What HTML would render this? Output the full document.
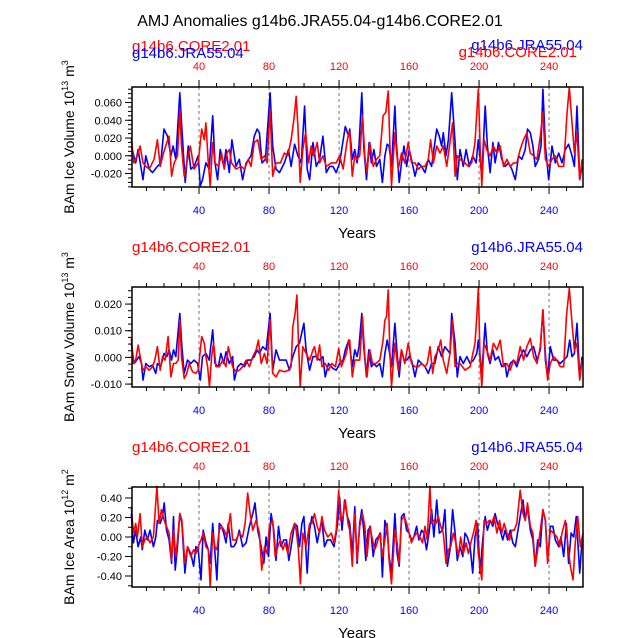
<!DOCTYPE html>
<html><head><meta charset="utf-8"><style>
html,body{margin:0;padding:0;background:#fff;}
svg{display:block;font-family:"Liberation Sans",Arial,sans-serif;}
</style></head><body>
<svg id="chart" width="638" height="638" viewBox="0 0 638 638" xmlns="http://www.w3.org/2000/svg">
<text x="320" y="26" font-size="16" text-anchor="middle" fill="#000">AMJ Anomalies g14b6.JRA55.04-g14b6.CORE2.01</text>
</svg>
<script>
const xTicksMajor = [40,80,120,160,200,240];
const p1Ticks = [-0.020,0.000,0.020,0.040,0.060];
const p1TickLabels = ["-0.020","0.000","0.020","0.040","0.060"];
const p2Ticks = [-0.010,0.000,0.010,0.020];
const p2TickLabels = ["-0.010","0.000","0.010","0.020"];
const p3Ticks = [-0.4,-0.2,0,0.2,0.4];
const p3TickLabels = ["-0.40","-0.20","0.00","0.20","0.40"];

const p1JraYears=[1.3,3.8,5.2,6.7,8,9.6,11.5,13.4,16.2,18.1,20,22,23.9,25.2,26.7,29,30.2,32.1,33.8,35.3,37.2,39.5,40.7,42,43.9,45.8,47.8,49.1,50.6,52.1,54.1,55.4,57.3,58.8,61.1,63,64.9,66.9,69.7,71.6,73.2,74.5,76,77.9,80.6,82.1,84,86,88.8,91.1,92.6,94.6,96.5,98.4,100.3,101.8,103.2,105.1,107,108.9,110.8,112.7,114.6,116.5,118.4,120.3,123.6,125.5,126.1,127.6,129,130.3,131.4,133,134.1,135.7,137.2,138.5,139.9,141.4,143.3,144.8,146.2,147.5,148.6,150,151.9,152.8,154.4,155.7,157.1,158.6,160.1,161.4,163.4,165.3,167.2,169.1,171,172.9,175.8,177.3,178.6,179.6,181.1,182.5,184.4,186.3,187.6,189.1,191,192.6,194.5,196.4,198.3,199.6,201.6,203.5,204.8,206.3,207.9,209.2,211.1,213,214.9,216.8,218.7,220.7,222.6,224.5,226.4,227.7,229.3,230.8,232.1,234,235.4,236.5,237.9,239.8,241.7,243.6,245.5,247.4,249.3,251.2,253.1,254.5,256,257.5,258.9];
const p1JraVals=[.011,-.008,.007,-.012,-.027,0,-.015,-.019,-.012,-.008,.030,.022,0,.011,-.004,.071,.030,-.030,.011,-.015,-.012,0,-.034,-.027,-.008,-.015,.045,-.008,-.027,.007,-.012,.007,-.019,.018,-.012,-.004,-.027,-.008,0,.022,.030,.026,-.008,-.004,.071,.011,-.015,-.019,-.008,.007,-.012,.013,0,-.008,.056,-.015,-.027,.015,-.012,-.004,.022,-.019,-.012,-.012,-.019,-.008,.033,.022,.030,-.004,.007,-.008,.011,.071,.011,-.027,.015,-.008,.007,-.012,-.004,-.030,0,.013,.011,-.012,.056,.015,-.030,-.008,.011,-.012,.007,-.004,-.023,-.008,-.012,-.019,-.004,-.012,.030,.022,.011,.026,0,.018,.071,.015,-.027,.007,-.012,.007,-.012,0,-.008,.018,-.023,.056,.011,-.019,.015,-.008,.015,-.004,-.012,-.008,-.015,-.027,0,-.004,.007,.030,.026,.011,-.012,-.004,.011,.075,.011,-.027,.011,-.008,.003,-.008,.007,.013,0,-.012,.056,-.027,-.012];
const p1CoreYears=[1.3,2.8,4.8,6.3,8,9.6,11.5,14.3,16.2,17.8,19.7,21.6,22.9,24.3,25.8,27.7,29,30,31.5,33.4,35,37.2,39.5,41.5,43,43.9,45.3,46.4,47.8,49.1,51.2,52.9,54.4,56,57.3,58.6,61.1,64,65.9,68.2,69.7,71.6,73.5,75.5,77.4,78.9,80.6,82.1,84,86.5,88.8,90.7,92.6,94.2,95.5,96.5,97.8,99.3,100.9,102.6,104.1,105.6,107.5,108.9,110.8,112.7,115.6,118.4,120.3,122.3,124.2,125.5,126.1,127.6,129,130.3,131.8,133.4,134.7,136,137.6,139.5,141.4,143.3,145.2,146.7,148.1,149,150,151.9,153.8,155.7,157.6,159.5,161.4,163.4,165.3,167.2,169.1,171,172.3,173.9,175.8,177.7,179.6,181.5,183.4,184.9,186.3,187.6,189.1,192,193.9,195.8,197.7,198.7,199.6,200.6,201.6,202.9,204.4,206.3,208.2,210.2,212.1,214,215.9,217.8,219.7,221.6,223.5,225.4,227.3,229.3,231.2,233.1,235,236.5,237.9,239.8,241.7,243.6,245.5,248.4,250.3,251.6,253.1,254.5,256,257.5,258.9];
const p1CoreVals=[.020,-.008,0,.011,-.008,-.012,-.015,-.004,.018,-.012,.003,.015,.022,-.023,-.008,0,.052,.011,-.023,-.004,.011,-.015,-.008,.030,.018,.037,-.008,-.034,.015,-.008,-.012,.003,-.015,.003,.007,-.008,-.015,-.012,-.015,-.004,-.012,.015,.018,-.004,0,-.008,.052,-.023,-.008,-.008,.003,0,.018,.041,.067,.033,-.030,.007,.026,-.008,.011,0,.015,-.008,0,-.012,-.008,-.008,0,-.015,.011,.026,.026,-.023,0,-.004,0,.045,0,-.019,.015,-.012,-.004,0,.045,.049,.073,.015,-.034,.026,-.015,.003,-.008,.015,-.008,-.008,-.015,-.012,-.012,-.004,.018,-.008,.011,.003,.011,-.012,.015,.037,-.023,0,-.004,-.008,-.012,-.008,.015,.049,.075,.011,-.034,.018,.007,0,.011,.003,.011,-.012,-.004,-.012,-.008,-.008,.007,.018,.026,.003,0,-.004,.022,.049,-.004,-.012,-.004,0,-.012,-.012,.049,.077,.037,.003,.026,-.027,-.004];

const p2JraYears=[1.3,2.9,4.4,5.7,7.1,8,9.6,11.5,13.4,15.3,16.2,18.1,20,21.6,22.9,24.3,25.4,26.7,29,30.2,31.5,33.4,35.3,37.2,39.2,40.7,42,43.9,45.8,47.8,49.1,51,52.5,54.1,55.4,57.3,59.2,60.2,62.1,64,65.9,67.8,69.7,71.6,73.2,74.5,76.4,78.3,80.6,82.1,84,86,87.9,89.8,91.7,93.6,95.5,97.4,99.9,101.2,103.2,105.1,107,108.9,110.8,112.1,114,116.5,118.4,120.3,122.3,123.6,125.5,126.1,127.6,129,130.3,131.4,133,134.1,135.7,137,138.5,139.9,141.4,143.3,144.8,146.2,147.5,148.6,150,151.9,153.2,154.4,155.7,157.1,158.6,160.1,161.4,163.4,165.3,167.2,169.1,171,172.9,174.8,176.7,178.6,180.5,181.9,183.4,184.4,186.3,187.6,189.1,191,193,194.9,196.8,198.7,199.6,201.6,203.5,204.8,206.3,207.9,209.2,211.1,213,214.9,215.9,217.8,219.7,221.6,223.5,225.4,227.3,229.3,231.2,233.1,235,236.5,237.9,239.2,240.7,242.6,244.5,246.4,248.4,250.3,251.8,253.1,254.5,256,257.5,258.9];
const p2JraVals=[.0053,-.0023,-.001,.0003,-.0023,-.0085,-.0023,-.0035,-.0029,-.006,-.0023,-.0035,.0015,.0003,.0028,-.001,.0028,.0003,.0165,.004,-.006,-.001,-.0023,-.001,-.0023,-.0085,.0003,.0015,-.001,.0103,-.0023,-.0035,.0015,-.0023,.0021,-.0023,.0003,-.0085,-.0035,-.0023,-.0035,-.001,-.001,.0003,.0028,.0015,.004,.0028,.0165,-.0048,.0028,-.001,-.001,-.001,-.0048,.0003,.004,.0053,.0128,.0028,-.0048,.0003,.0003,-.001,.0003,-.0073,-.0023,-.0041,-.0048,-.0023,-.001,.0028,.0065,.004,-.0035,.0028,.0003,.004,.0165,.004,-.0073,.0028,-.0035,-.0023,-.0035,-.0023,-.0073,.0015,.0065,.0028,-.0035,.0128,.0015,-.0073,.0028,-.001,-.001,.0003,-.001,-.0073,-.001,-.0023,-.0035,-.006,-.0023,-.0023,.004,.0003,.004,.0028,.0015,.0165,.0053,-.0073,.0003,-.0023,.0003,-.0023,-.001,.0015,.0065,-.006,.0128,.0015,-.0023,.0028,-.001,.0003,-.0035,-.0023,-.0073,-.0023,-.001,-.0035,.0003,.0028,.0003,.0028,.004,-.001,.0028,.0178,-.001,-.0073,.004,-.001,-.001,-.0023,-.001,.0003,.0065,.0003,.0015,.0128,-.0073,.0003];
const p2CoreYears=[1.3,2.5,3.8,5.2,6.7,8,9.6,11.5,13.4,14.7,16.2,17.8,19.1,20.6,22.3,23.9,25.4,26.7,28.1,29,30,31.5,33,34.4,36.3,38.2,39.5,41.5,43,43.9,44.9,46,47.2,48.3,49.7,51.6,53.5,55.4,56.7,57.9,59.2,61.1,63,64.9,66.9,68.8,70.7,72.6,73.9,75.5,77.4,78.9,80.6,82.1,84,86,88.8,91.1,92.6,93.6,94.9,95.9,96.8,97.8,99.3,101.2,103.2,105.1,106,107.5,108.9,110.2,112.1,114,115.9,117.9,119.8,121.3,122.8,124.2,125.5,126.1,127.6,129,130.3,131.8,133.4,134.7,136,137.6,139.1,141,143.3,145.2,146.2,147.1,148.1,149,150,151.9,153.8,155.7,157.6,159.5,161.4,163.4,165.3,167.2,169.1,170.4,172,173.5,174.8,176.7,178.1,179.6,181.5,183.4,184.9,186.3,187.6,189.1,192,194.9,197.7,198.7,199.6,200.6,201.6,202.9,204.4,206.3,208.2,210.2,212.1,214,215.9,217.8,219.7,221.6,223.5,225.4,227.3,229.3,231.2,233.1,235,236.5,237.9,239.2,240.7,242.6,244.5,246.4,248.4,249.9,251.6,253.1,254.5,256,257.5,258.9];
const p2CoreVals=[.0071,-.0023,-.001,.0046,-.001,-.0048,-.0035,-.0048,-.0035,-.001,.004,-.0048,.0003,-.001,.0078,-.0073,-.0023,-.0023,-.001,.014,.0003,-.0079,-.006,-.0023,-.0054,-.006,-.0048,.0078,.0053,.0003,-.0035,-.011,.0003,.0053,-.0035,-.0035,-.001,-.0035,.004,.0003,-.0035,-.0054,-.0048,-.0035,-.001,-.0035,.0003,.0028,.0065,-.0023,.0015,-.0023,.014,-.006,-.0073,-.0048,-.0054,-.0048,-.0035,.0115,.0165,.0234,.0065,-.011,.004,.0015,-.001,.0028,.004,-.001,.0046,-.0035,-.0023,-.0048,-.0023,-.0035,.0034,-.0035,-.001,.0015,.0065,.0065,-.0073,-.001,-.001,-.001,.0153,.0003,-.0073,.0028,-.0023,-.0023,-.001,.0065,.014,.0153,.0253,.0028,-.011,.0053,-.0048,.0028,-.0023,.0053,-.0023,-.0035,-.0035,-.0023,-.0035,-.0023,.004,-.006,.0003,.0028,.0065,-.001,-.006,.0015,.014,-.0035,-.0023,-.0023,-.0048,-.0035,.0053,.0153,.0259,-.001,-.011,.0053,.0028,-.001,.0053,.0028,.0065,-.0035,-.0023,-.0048,-.001,-.0023,.004,-.001,.004,.0071,.0003,-.0023,.004,.0178,.0015,-.0085,-.0023,.0003,-.001,-.0035,-.0035,.0153,.0259,.0128,.0028,.0053,-.0085,-.001];

const p3JraYears=[1.3,2.5,3.8,5.2,6.7,7.6,9,10.5,12,13.9,15.3,16.2,17.8,19.1,20.1,21.4,22.9,24.3,25.4,26.4,27.7,29,30.2,31.9,33.4,35.3,36.9,38.2,39.5,41.1,42.4,43.9,45.3,46.4,47.8,49.1,50.2,51.6,52.9,54.1,55.4,56.7,58.3,59.8,61.1,63,64.9,66.9,68.8,70.7,72,73.5,75.5,77,78.3,79.7,81.2,82.7,84,85.4,86.9,88.4,90,91.3,92.6,94.6,96.1,97.4,98.8,99.9,101.8,103.2,104.5,106,107.5,108.9,110.2,111.7,113.3,115.2,117.1,119,120.3,121.7,123.2,124.7,126.1,127.6,129,130.3,131.8,133,134.1,135.3,136.6,137.9,139.5,141,142.3,143.7,144.8,146.2,147.5,148.6,150,151.9,153.2,154.4,155.7,157.1,158.6,160.1,161.4,162.8,164.3,165.6,167.2,168.5,170,171.4,172.9,174.2,175.8,177.3,179.2,180.5,181.9,183.4,184.9,186.3,187.6,189.1,190.7,192,193.3,194.9,196.4,197.7,199.1,200.6,202.1,203.5,204.8,206.3,207.9,209.2,210.5,212.1,213.6,214.9,216.3,217.8,219.3,220.7,222,223.5,225.1,226.4,227.7,229.3,230.8,232.1,233.5,235,236.5,237.9,239.2,240.7,242.2,243.6,245.5,246.8,248.4,249.9,251.2,252.6,254.1,255.6,257.5,258.9];
const p3JraVals=[.24,-.06,.07,-.10,0,-.13,.07,-.03,.07,-.10,0,.17,.14,.21,.35,.07,-.03,-.27,.21,-.34,-.10,.24,.14,-.37,-.10,-.17,-.30,-.10,-.13,-.44,.07,-.06,-.13,-.27,.14,-.17,-.44,.14,.11,.04,-.06,.14,-.10,-.10,-.06,.07,-.10,-.06,.11,.24,.35,.07,-.10,-.27,0,-.20,.24,.07,-.24,.11,-.10,-.03,-.03,-.24,-.10,.14,.11,-.10,.14,.21,-.37,.07,.21,.11,-.06,.07,.17,-.10,-.03,-.03,-.10,.11,.41,.07,.38,.21,.14,-.17,.31,-.27,.14,.28,.07,-.24,.07,.11,-.20,-.03,0,.04,-.41,.17,.07,-.20,-.37,.24,-.17,-.30,.21,.24,.07,.04,-.03,0,.11,-.03,.07,.04,-.13,.04,.28,0,.38,.04,.07,.28,-.30,-.13,.28,.04,-.24,-.10,-.20,.04,0,-.10,-.37,0,.14,-.37,-.03,.21,.07,.17,.11,.24,.14,.07,-.03,.07,-.03,.07,-.06,-.10,.04,.21,.38,.17,.31,.07,-.03,-.30,-.03,-.10,.28,.17,-.24,.11,.11,-.03,-.10,0,-.20,.14,-.27,.04,0,.21,-.37,-.03];
const p3CoreYears=[1.3,2.5,3.8,4.8,6.3,7.6,9,10.5,12,13.9,15.9,17.2,18.5,20.1,21.4,22.9,24.3,25.4,26.7,27.7,29,30.2,31.9,33.4,35.3,36.9,38.2,39.5,41.1,42.4,43.9,45.3,46.4,47.8,49.1,50.2,51.6,52.9,54.4,56,57.9,59.2,61.1,63,64.9,66.3,67.8,69.2,70.7,72.6,74.5,75.8,77.4,78.9,80.2,82.1,83.5,85,86.5,87.9,89.2,90.7,92.6,94.6,95.5,96.8,97.9,99.3,101.2,103.2,104.5,106,107.5,108.9,110.2,111.7,113.6,115.6,117.1,118.4,119.8,120.9,122.3,123.6,125.1,126.1,127.6,129,130.3,131.8,133.4,134.7,136,137.6,139.1,140.4,141.8,143.3,144.8,146.2,147.5,148.6,150,151.9,153.2,154.4,155.7,157.1,158.6,160.1,161.4,162.8,164.3,166.2,167.7,169.1,170.4,171.9,172.9,174.2,175.4,176.7,178.1,179.6,181.1,182.5,183.8,185.3,186.8,188.2,189.5,191,192.6,193.9,195.3,196.8,198.3,199.6,201.6,202.9,204.4,205.9,207.3,208.6,210.2,211.7,213,214.4,215.9,217.4,218.7,220.1,221.6,223.5,225.1,226.4,227.7,229.3,230.8,232.1,233.5,235,236.5,237.9,239.2,240.7,242.6,244.5,246.1,247.4,249.3,250.6,252.2,253.7,255,256.4,257.9,259.4];
const p3CoreVals=[.31,.04,.14,0,.24,-.10,-.03,0,-.06,0,.52,.14,.28,.17,.11,.04,-.24,.07,-.20,-.03,.24,.17,-.27,-.10,-.20,-.13,-.17,-.10,-.03,.04,-.10,-.13,-.51,.04,-.10,-.13,.07,.11,.07,0,.24,-.03,-.03,.04,0,.14,.45,.24,.07,.17,.04,-.34,-.10,-.17,.11,.17,-.20,-.10,-.03,-.13,-.06,-.17,.04,.14,.07,-.13,-.48,.04,-.10,.14,.14,.24,.11,.04,.21,.07,0,.04,-.06,.07,.48,.17,.21,.38,.14,.07,-.30,.24,-.24,.11,.24,.11,-.20,.11,-.03,-.13,-.06,.04,-.20,-.03,.14,-.24,-.48,.07,-.06,-.27,.17,.21,.14,.04,-.06,0,.04,0,-.06,.11,-.03,.52,.14,.17,.14,.21,.11,.04,-.27,-.13,-.10,.04,-.06,-.20,0,-.17,-.06,-.17,-.06,.04,.17,-.17,-.44,.17,.14,.17,.14,.21,.04,.17,.04,.14,.04,-.03,.07,.07,.14,.48,.24,.17,.35,.11,.04,-.30,-.13,.07,.28,.17,-.27,.07,.04,0,-.10,.04,.17,-.06,-.30,-.44,-.06,.21,-.10,.04];

const NS="http://www.w3.org/2000/svg";
const svg=document.getElementById('chart');
const X0=132, X1=583, YR0=1.7, YR1=259.4;
function xs(yr){return X0+(yr-YR0)*(X1-X0)/(YR1-YR0);}
function mk(tag,attrs,parent){const e=document.createElementNS(NS,tag);for(const k in attrs)e.setAttribute(k,attrs[k]);(parent||svg).appendChild(e);return e;}

function panel(idx,top,vmin,vmax,ticks,tickLabels,minorStep,title,sup,series){
  const bot=top+100;
  const ys=v=>bot-(v-vmin)*(bot-top)/(vmax-vmin);
  const g=mk('g',{});
  
  
  xTicksMajor.forEach(t=>{
    const l=mk('line',{x1:xs(t),x2:xs(t),y1:top,y2:bot,stroke:'#777','stroke-width':1,'stroke-dasharray':'3,3'},g);
    
    
  });
  series.forEach(s=>{
    let d='';
    s.years.forEach((y,i)=>{d+=(i?'L':'M')+xs(y).toFixed(1)+','+ys(s.vals[i]).toFixed(1);});
    const p=mk('path',{d:d,fill:'none',stroke:s.color,'stroke-width':1.6,'stroke-linejoin':'round'},g);
    
    
  });
  const fr=mk('rect',{x:X0,y:top,width:X1-X0,height:100,fill:'none',stroke:'#000','stroke-width':1.5},g);
  
  
  for(let t=10;t<=250;t+=10){
    const maj=t%40===0, len=maj?7:4, x=xs(t);
    mk('line',{x1:x,x2:x,y1:bot,y2:bot+len,stroke:'#000','stroke-width':1},g);
    mk('line',{x1:x,x2:x,y1:top,y2:top-len,stroke:'#000','stroke-width':1},g);
  }
  xTicksMajor.forEach(t=>{
    const b=mk('text',{x:xs(t),y:bot+27,'font-size':11,'text-anchor':'middle',fill:'#0000ff'},g);
    b.textContent=t;
    
    
    const r=mk('text',{x:xs(t),y:top-17,'font-size':11,'text-anchor':'middle',fill:'#ff0000'},g);
    r.textContent=t;
    
    
  });
  for(let v=Math.ceil(vmin/minorStep)*minorStep;v<=vmax+1e-9;v+=minorStep){
    mk('line',{x1:X0-4,x2:X0,y1:ys(v),y2:ys(v),stroke:'#000','stroke-width':1},g);
  }
  ticks.forEach((v,i)=>{
    mk('line',{x1:X0-7,x2:X0,y1:ys(v),y2:ys(v),stroke:'#000','stroke-width':1},g);
    const t=mk('text',{x:X0-10,y:ys(v)+4,'font-size':11,'text-anchor':'end',fill:'#000'},g);
    t.textContent=tickLabels[i];
    
    
  });
  const xt=mk('text',{x:357,y:bot+51,'font-size':15,'text-anchor':'middle',fill:'#000'},g);
  xt.textContent='Years';
  
  
  const yt=mk('text',{transform:'translate(74,'+(top+50)+') rotate(-90)','font-size':14,'text-anchor':'middle',fill:'#000'},g);
  yt.innerHTML=title+' 10<tspan dy="-6" font-size="9">'+sup[0]+'</tspan><tspan dy="6"> m</tspan><tspan dy="-6" font-size="9">'+sup[1]+'</tspan>';
  
  
  return g;
}

function legend(x,y,txt,color,anchor,name){
  const t=mk('text',{x:x,y:y,'font-size':15,'text-anchor':anchor||'start',fill:color});
  t.textContent=txt;
  
  
}

panel(1,87,-0.0352,0.0775,p1Ticks,p1TickLabels,0.005,'BAm Ice Volume',['13','3'],[
  {years:p1JraYears,vals:p1JraVals,color:'#0000ff',name:'line-jra-ice-volume'},
  {years:p1CoreYears,vals:p1CoreVals,color:'#ff0000',name:'line-core-ice-volume'}]);
panel(2,287,-0.0111,0.0264,p2Ticks,p2TickLabels,0.0025,'BAm Snow Volume',['13','3'],[
  {years:p2JraYears,vals:p2JraVals,color:'#0000ff',name:'line-jra-snow-volume'},
  {years:p2CoreYears,vals:p2CoreVals,color:'#ff0000',name:'line-core-snow-volume'}]);
panel(3,487,-0.513,0.513,p3Ticks,p3TickLabels,0.1,'BAm Ice Area',['12','2'],[
  {years:p3JraYears,vals:p3JraVals,color:'#0000ff',name:'line-jra-ice-area'},
  {years:p3CoreYears,vals:p3CoreVals,color:'#ff0000',name:'line-core-ice-area'}]);

legend(132,51,'g14b6.CORE2.01','#ff0000','start','legend-core-left-1');
legend(132,58,'g14b6.JRA55.04','#0000ff','start','legend-jra-left-1');
legend(583,50,'g14b6.JRA55.04','#0000ff','end','legend-jra-right-1');
legend(577,57,'g14b6.CORE2.01','#ff0000','end','legend-core-right-1');
legend(132,252,'g14b6.CORE2.01','#ff0000','start','legend-core-2');
legend(583,252,'g14b6.JRA55.04','#0000ff','end','legend-jra-2');
legend(132,452,'g14b6.CORE2.01','#ff0000','start','legend-core-3');
legend(583,452,'g14b6.JRA55.04','#0000ff','end','legend-jra-3');
</script>
</body></html>
